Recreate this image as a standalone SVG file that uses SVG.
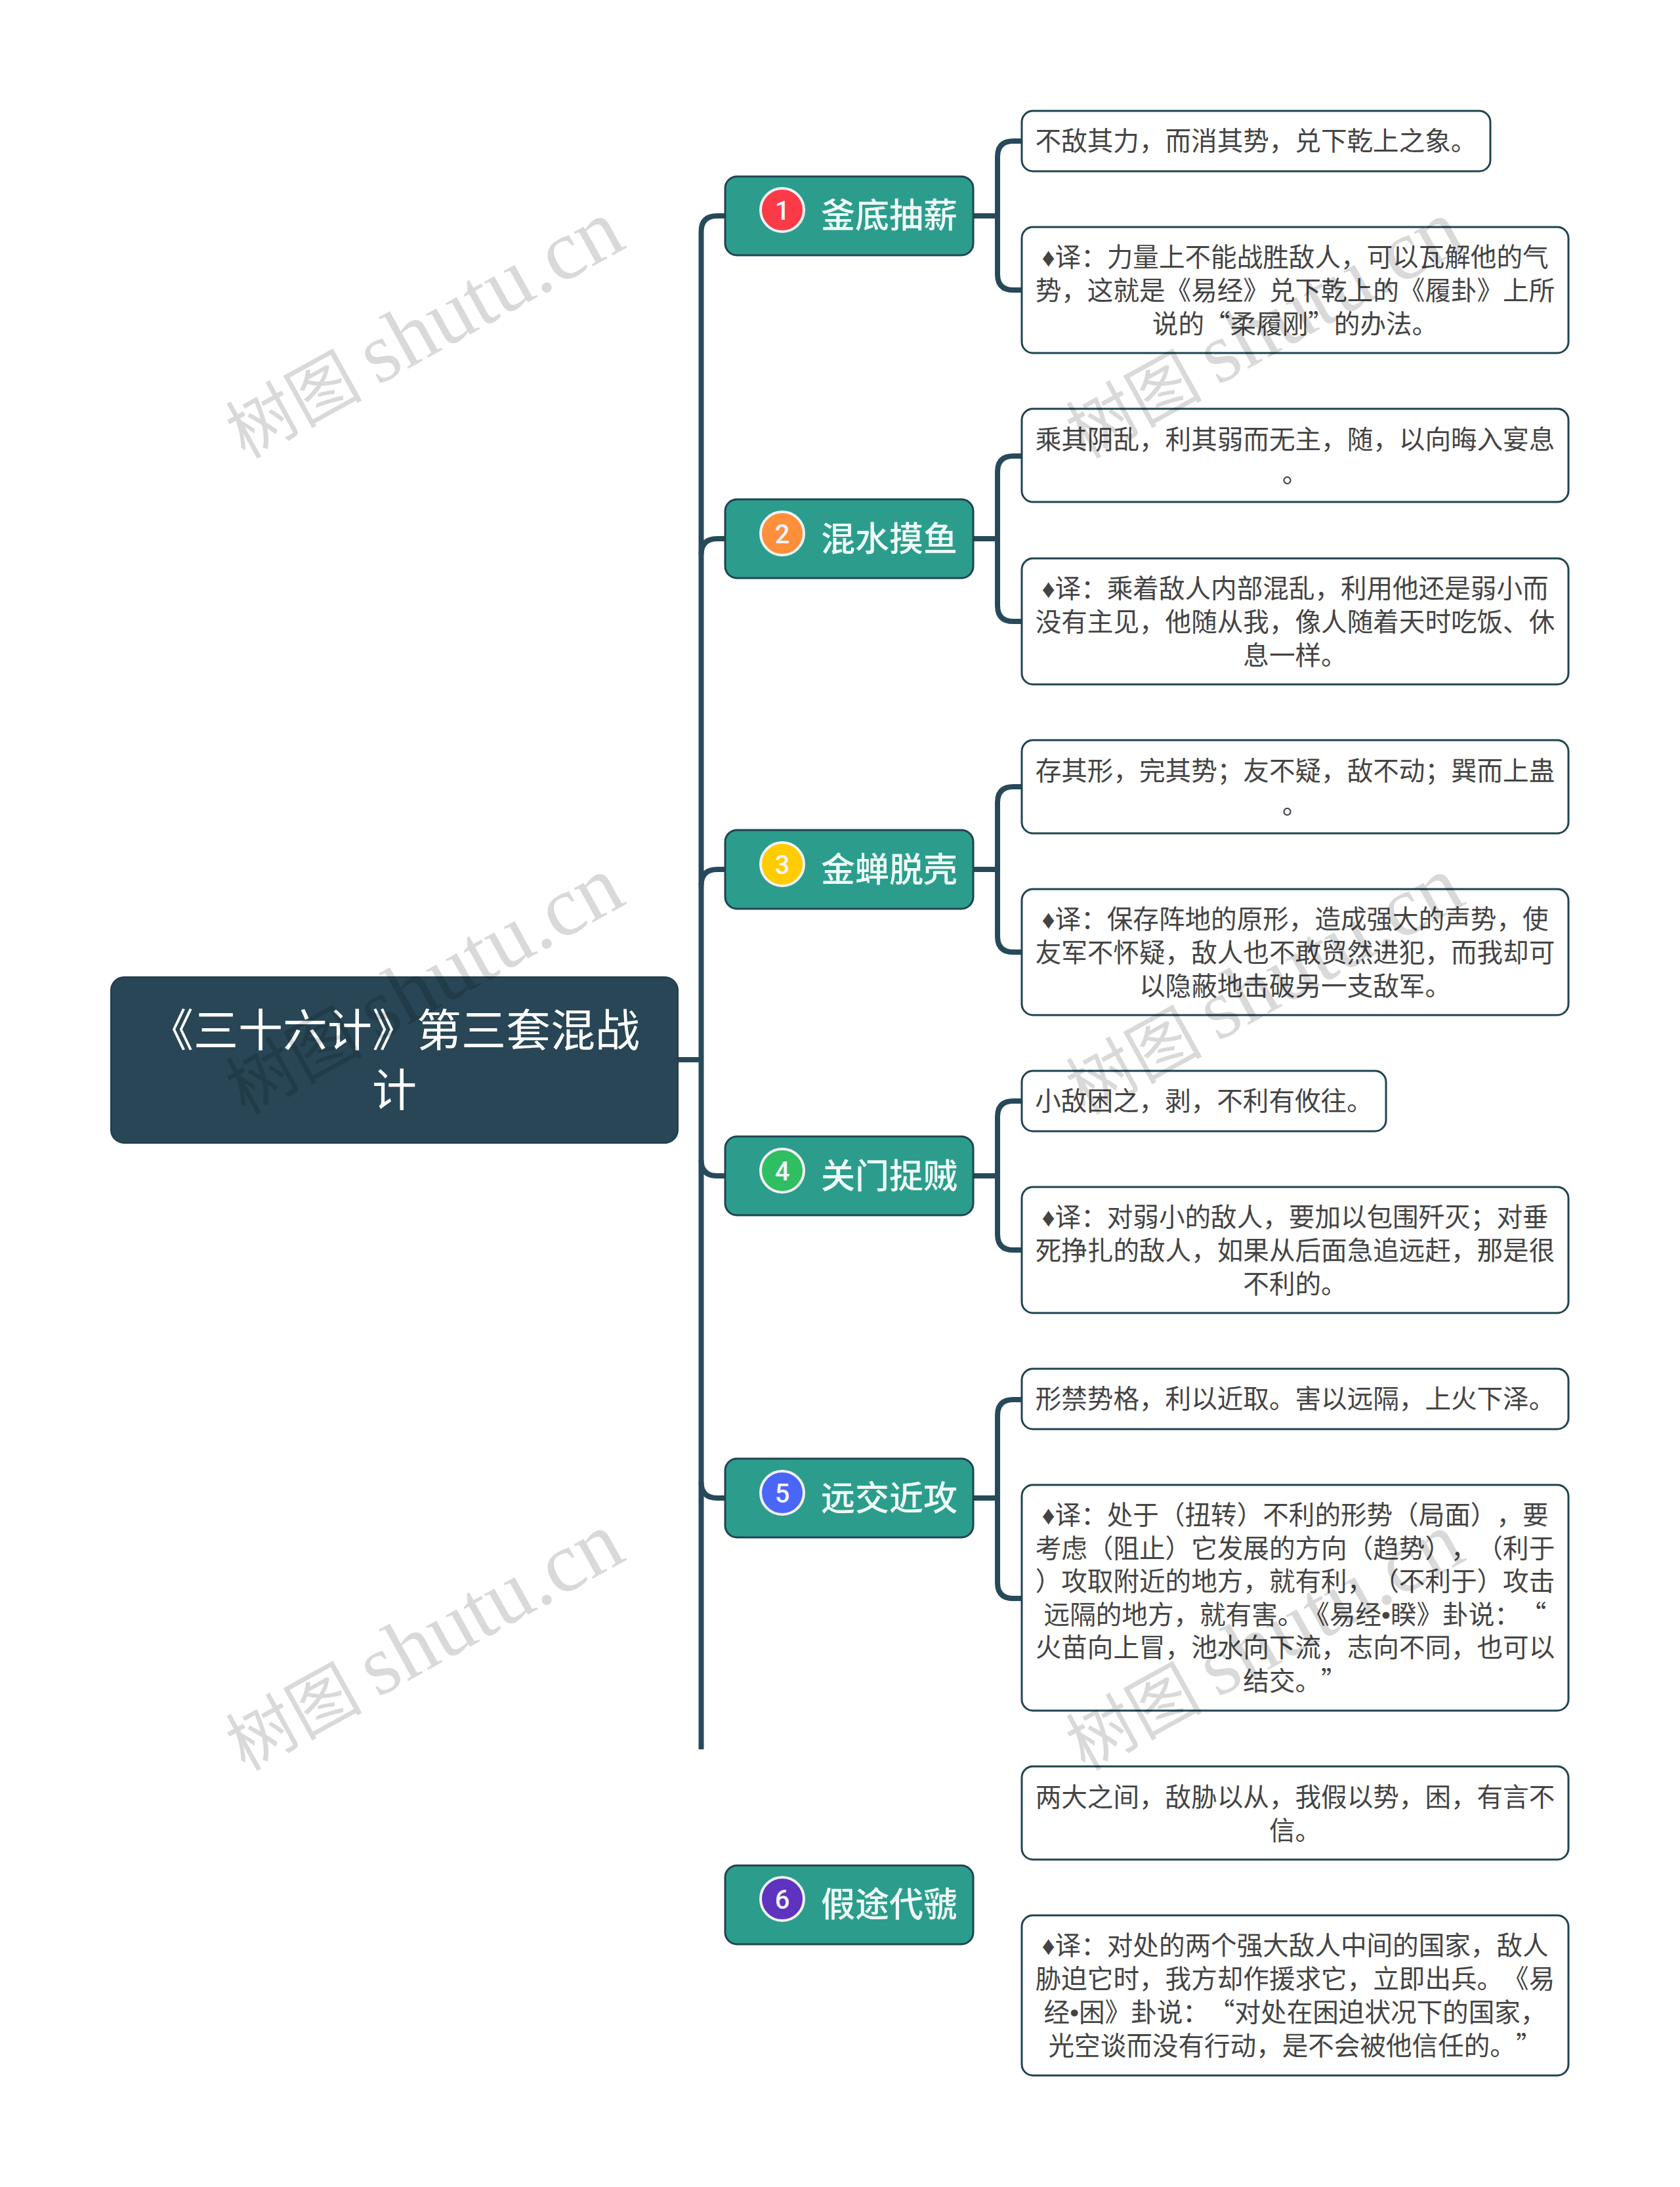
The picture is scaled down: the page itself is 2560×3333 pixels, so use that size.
<svg xmlns="http://www.w3.org/2000/svg" width="2560" height="3333" viewBox="0 0 2560 3333">
<style>
text{font-family:"Noto Sans CJK SC","Noto Sans",sans-serif;text-spacing-trim:space-all}
.conn{fill:none;stroke:#264a5a;stroke-width:8}
.root{fill:#284655;stroke:#1f3d4a;stroke-width:2}
.topic{fill:#2c9d8c;stroke:#1f4451;stroke-width:3}
.leaf{fill:#fff;stroke:#1f4451;stroke-width:3}
.rt{font-size:68px;fill:#fff;text-anchor:middle}
.tt{font-size:52px;fill:#eefaf6;text-anchor:middle;font-weight:500}
.lt{font-size:39.6px;fill:#444;text-anchor:middle}
.sym{font-family:"Liberation Sans",sans-serif}
.ring{stroke:#f2f2f2;stroke-width:4}
.num{font-family:Roboto,"Liberation Sans",sans-serif;font-weight:500;font-size:40px;fill:#f4f4ff;text-anchor:middle}
.wm{font-size:104px;fill:#000;fill-opacity:.15}
.wl{font-family:"Liberation Serif",serif;font-size:130px}
</style>
<rect width="2560" height="3333" fill="#fff"/>
<g id="connectors">
<path class="conn" d="M1033 1615H1068.5"/>
<path class="conn" d="M1105 329H1093Q1068.5 329 1068.5 353V2666"/>
<path class="conn" d="M1105 821H1093Q1068.5 821 1068.5 845"/>
<path class="conn" d="M1105 1325H1093Q1068.5 1325 1068.5 1349"/>
<path class="conn" d="M1105 1792H1093Q1068.5 1792 1068.5 1768"/>
<path class="conn" d="M1105 2283H1093Q1068.5 2283 1068.5 2259"/>
<path class="conn" d="M1483 329H1520M1557 215H1544Q1520 215 1520 239V418Q1520 442 1544 442H1557"/>
<path class="conn" d="M1483 821H1520M1557 695H1544Q1520 695 1520 719V923Q1520 947 1544 947H1557"/>
<path class="conn" d="M1483 1325H1520M1557 1199H1544Q1520 1199 1520 1223V1427Q1520 1451 1544 1451H1557"/>
<path class="conn" d="M1483 1792H1520M1557 1678H1544Q1520 1678 1520 1702V1881Q1520 1905 1544 1905H1557"/>
<path class="conn" d="M1483 2283H1520M1557 2133H1544Q1520 2133 1520 2157V2412Q1520 2436 1544 2436H1557"/>
</g>
<g id="root"><rect class="root" x="169" y="1489" width="864" height="253" rx="20"/>
<text class="rt"><tspan x="601" y="1595">《三十六计》第三套混战</tspan><tspan x="601" y="1686">计</tspan></text></g>
<g id="topic1"><rect class="topic" x="1105" y="269" width="378" height="120" rx="18"/><circle class="ring" cx="1192" cy="320" r="33" fill="#fb3a47"/><text class="num" x="1192" y="335">1</text><text class="tt" x="1355" y="347">釜底抽薪</text></g>
<g id="topic2"><rect class="topic" x="1105" y="761" width="378" height="120" rx="18"/><circle class="ring" cx="1192" cy="813" r="33" fill="#ff8f3a"/><text class="num" x="1192" y="828">2</text><text class="tt" x="1355" y="840">混水摸鱼</text></g>
<g id="topic3"><rect class="topic" x="1105" y="1265" width="378" height="120" rx="18"/><circle class="ring" cx="1192" cy="1317" r="33" fill="#ffcc00"/><text class="num" x="1192" y="1332">3</text><text class="tt" x="1355" y="1344">金蝉脱壳</text></g>
<g id="topic4"><rect class="topic" x="1105" y="1732" width="378" height="120" rx="18"/><circle class="ring" cx="1192" cy="1784" r="33" fill="#2fbf62"/><text class="num" x="1192" y="1799">4</text><text class="tt" x="1355" y="1811">关门捉贼</text></g>
<g id="topic5"><rect class="topic" x="1105" y="2223" width="378" height="120" rx="18"/><circle class="ring" cx="1192" cy="2275" r="33" fill="#4a66f8"/><text class="num" x="1192" y="2290">5</text><text class="tt" x="1355" y="2302">远交近攻</text></g>
<g id="topic6"><rect class="topic" x="1105" y="2843" width="378" height="120" rx="18"/><circle class="ring" cx="1192" cy="2894" r="33" fill="#5d33c0"/><text class="num" x="1192" y="2909">6</text><text class="tt" x="1355" y="2921">假途代虢</text></g>
<g id="leaf1a"><rect class="leaf" x="1557" y="169" width="714" height="92" rx="17"/><text class="lt"><tspan x="1914" y="229">不敌其力，而消其势，兑下乾上之象。</tspan></text></g>
<g id="leaf1b"><rect class="leaf" x="1557" y="346" width="833" height="192" rx="17"/><text class="lt"><tspan x="1973.5" y="406"><tspan class="sym">♦</tspan>译：力量上不能战胜敌人，可以瓦解他的气</tspan><tspan x="1973.5" y="457">势，这就是《易经》兑下乾上的《履卦》上所</tspan><tspan x="1973.5" y="508">说的“柔履刚”的办法。</tspan></text></g>
<g id="leaf2a"><rect class="leaf" x="1557" y="623" width="833" height="142" rx="17"/><text class="lt"><tspan x="1973.5" y="684">乘其阴乱，利其弱而无主，随，以向晦入宴息</tspan><tspan x="1973.5" y="735">。</tspan></text></g>
<g id="leaf2b"><rect class="leaf" x="1557" y="851" width="833" height="192" rx="17"/><text class="lt"><tspan x="1973.5" y="911"><tspan class="sym">♦</tspan>译：乘着敌人内部混乱，利用他还是弱小而</tspan><tspan x="1973.5" y="962">没有主见，他随从我，像人随着天时吃饭、休</tspan><tspan x="1973.5" y="1013">息一样。</tspan></text></g>
<g id="leaf3a"><rect class="leaf" x="1557" y="1128" width="833" height="142" rx="17"/><text class="lt"><tspan x="1973.5" y="1189">存其形，完其势；友不疑，敌不动；巽而上蛊</tspan><tspan x="1973.5" y="1240">。</tspan></text></g>
<g id="leaf3b"><rect class="leaf" x="1557" y="1355" width="833" height="192" rx="17"/><text class="lt"><tspan x="1973.5" y="1415"><tspan class="sym">♦</tspan>译：保存阵地的原形，造成强大的声势，使</tspan><tspan x="1973.5" y="1466">友军不怀疑，敌人也不敢贸然进犯，而我却可</tspan><tspan x="1973.5" y="1517">以隐蔽地击破另一支敌军。</tspan></text></g>
<g id="leaf4a"><rect class="leaf" x="1557" y="1632" width="555" height="92" rx="17"/><text class="lt"><tspan x="1834.5" y="1692">小敌困之，剥，不利有攸往。</tspan></text></g>
<g id="leaf4b"><rect class="leaf" x="1557" y="1809" width="833" height="192" rx="17"/><text class="lt"><tspan x="1973.5" y="1869"><tspan class="sym">♦</tspan>译：对弱小的敌人，要加以包围歼灭；对垂</tspan><tspan x="1973.5" y="1920">死挣扎的敌人，如果从后面急追远赶，那是很</tspan><tspan x="1973.5" y="1971">不利的。</tspan></text></g>
<g id="leaf5a"><rect class="leaf" x="1557" y="2086" width="833" height="92" rx="17"/><text class="lt"><tspan x="1973.5" y="2146">形禁势格，利以近取。害以远隔，上火下泽。</tspan></text></g>
<g id="leaf5b"><rect class="leaf" x="1557" y="2263" width="833" height="344" rx="17"/><text class="lt"><tspan x="1973.5" y="2323"><tspan class="sym">♦</tspan>译：处于（扭转）不利的形势（局面），要</tspan><tspan x="1973.5" y="2374">考虑（阻止）它发展的方向（趋势），（利于</tspan><tspan x="1973.5" y="2424">）攻取附近的地方，就有利，（不利于）攻击</tspan><tspan x="1973.5" y="2475">远隔的地方，就有害。《易经<tspan class="sym">•</tspan>睽》卦说：“</tspan><tspan x="1973.5" y="2525">火苗向上冒，池水向下流，志向不同，也可以</tspan><tspan x="1973.5" y="2576">结交。”</tspan></text></g>
<g id="leaf6a"><rect class="leaf" x="1557" y="2692" width="833" height="142" rx="17"/><text class="lt"><tspan x="1973.5" y="2753">两大之间，敌胁以从，我假以势，困，有言不</tspan><tspan x="1973.5" y="2804">信。</tspan></text></g>
<g id="leaf6b"><rect class="leaf" x="1557" y="2919" width="833" height="244" rx="17"/><text class="lt"><tspan x="1973.5" y="2979"><tspan class="sym">♦</tspan>译：对处的两个强大敌人中间的国家，敌人</tspan><tspan x="1973.5" y="3030">胁迫它时，我方却作援求它，立即出兵。《易</tspan><tspan x="1973.5" y="3081">经<tspan class="sym">•</tspan>困》卦说：“对处在困迫状况下的国家，</tspan><tspan x="1973.5" y="3132">光空谈而没有行动，是不会被他信任的。”</tspan></text></g>
<g id="watermark">
<text class="wm" transform="translate(373 700) rotate(-29)">树图 <tspan class="wl">shutu.cn</tspan></text>
<text class="wm" transform="translate(1653 700) rotate(-29)">树图 <tspan class="wl">shutu.cn</tspan></text>
<text class="wm" transform="translate(373 1700) rotate(-29)">树图 <tspan class="wl">shutu.cn</tspan></text>
<text class="wm" transform="translate(1653 1700) rotate(-29)">树图 <tspan class="wl">shutu.cn</tspan></text>
<text class="wm" transform="translate(373 2700) rotate(-29)">树图 <tspan class="wl">shutu.cn</tspan></text>
<text class="wm" transform="translate(1653 2700) rotate(-29)">树图 <tspan class="wl">shutu.cn</tspan></text>
</g>
</svg>
